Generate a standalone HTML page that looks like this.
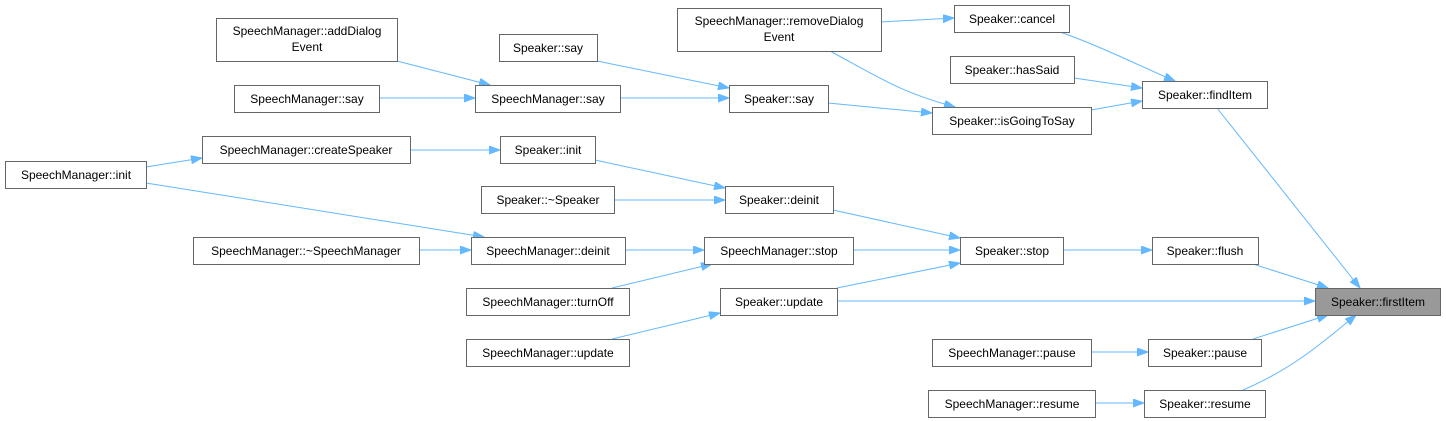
<!DOCTYPE html>
<html><head><meta charset="utf-8"><style>
html,body{margin:0;padding:0;background:#fff;}
svg{display:block;}
text{font-family:"Liberation Sans",Arial,sans-serif;font-size:12px;fill:#000;}
rect{fill:#fff;stroke:#666;stroke-width:1;}
path{fill:none;stroke:#63b8ff;stroke-width:1;}
</style></head><body>
<svg width="1446" height="421" viewBox="0 0 1446 421" xmlns="http://www.w3.org/2000/svg">
<defs><marker id="a" markerUnits="userSpaceOnUse" markerWidth="12" markerHeight="10" refX="11" refY="4" orient="auto"><path d="M0,0 L11,4 L0,8 Z" style="fill:#63b8ff;stroke:#63b8ff"/></marker></defs>
<g>
<path marker-end="url(#a)" d="M881,22 L954,18"/>
<path marker-end="url(#a)" d="M830,51 C880,78 900,92 955,107"/>
<path marker-end="url(#a)" d="M1060,32 C1100,46 1140,66 1175,81"/>
<path marker-end="url(#a)" d="M1074,78 L1142,88"/>
<path marker-end="url(#a)" d="M1091,110 L1142,101"/>
<path marker-end="url(#a)" d="M1217,108 L1360,288"/>
<path marker-end="url(#a)" d="M397,61 L490,85"/>
<path marker-end="url(#a)" d="M379,98 L475,98"/>
<path marker-end="url(#a)" d="M597,61 L729,88"/>
<path marker-end="url(#a)" d="M620,98 L729,98"/>
<path marker-end="url(#a)" d="M828,103 L932,113"/>
<path marker-end="url(#a)" d="M146,167 L202,158"/>
<path marker-end="url(#a)" d="M410,150 L500,150"/>
<path marker-end="url(#a)" d="M146,183 L484,237"/>
<path marker-end="url(#a)" d="M595,160 L725,188"/>
<path marker-end="url(#a)" d="M614,200 L725,200"/>
<path marker-end="url(#a)" d="M833,210 L960,238"/>
<path marker-end="url(#a)" d="M419,250 L471,250"/>
<path marker-end="url(#a)" d="M625,250 L704,250"/>
<path marker-end="url(#a)" d="M853,250 L960,250"/>
<path marker-end="url(#a)" d="M612,288 L712,264"/>
<path marker-end="url(#a)" d="M837,288 L960,263"/>
<path marker-end="url(#a)" d="M1063,250 L1152,250"/>
<path marker-end="url(#a)" d="M1253,264 L1328,288"/>
<path marker-end="url(#a)" d="M837,301 L1315,301"/>
<path marker-end="url(#a)" d="M612,339 L720,313"/>
<path marker-end="url(#a)" d="M1253,339 L1328,315"/>
<path marker-end="url(#a)" d="M1091,352 L1148,352"/>
<path marker-end="url(#a)" d="M1243,390 C1290,370 1320,345 1356,315"/>
<path marker-end="url(#a)" d="M1095,403 L1144,403"/>
</g>
<g>
<rect x="216.5" y="18.5" width="181" height="43"/><text x="307" y="35" text-anchor="middle">SpeechManager::addDialog</text><text x="307" y="51" text-anchor="middle">Event</text>
<rect x="677.5" y="8.5" width="204" height="43"/><text x="779" y="25" text-anchor="middle">SpeechManager::removeDialog</text><text x="779" y="41" text-anchor="middle">Event</text>
<rect x="499.5" y="34.5" width="98" height="27"/><text x="548" y="52" text-anchor="middle">Speaker::say</text>
<rect x="954.5" y="5.5" width="115" height="27"/><text x="1012" y="23" text-anchor="middle">Speaker::cancel</text>
<rect x="950.5" y="56.5" width="124" height="27"/><text x="1012" y="74" text-anchor="middle">Speaker::hasSaid</text>
<rect x="234.5" y="85.5" width="145" height="27"/><text x="307" y="103" text-anchor="middle">SpeechManager::say</text>
<rect x="475.5" y="85.5" width="145" height="27"/><text x="548" y="103" text-anchor="middle">SpeechManager::say</text>
<rect x="729.5" y="85.5" width="99" height="27"/><text x="779" y="103" text-anchor="middle">Speaker::say</text>
<rect x="932.5" y="107.5" width="159" height="27"/><text x="1012" y="125" text-anchor="middle">Speaker::isGoingToSay</text>
<rect x="1142.5" y="81.5" width="125" height="27"/><text x="1205" y="99" text-anchor="middle">Speaker::findItem</text>
<rect x="202.5" y="136.5" width="208" height="27"/><text x="306" y="154" text-anchor="middle">SpeechManager::createSpeaker</text>
<rect x="500.5" y="136.5" width="95" height="27"/><text x="548" y="154" text-anchor="middle">Speaker::init</text>
<rect x="5.5" y="161.5" width="141" height="27"/><text x="76" y="179" text-anchor="middle">SpeechManager::init</text>
<rect x="481.5" y="186.5" width="133" height="27"/><text x="548" y="204" text-anchor="middle">Speaker::~Speaker</text>
<rect x="725.5" y="186.5" width="108" height="27"/><text x="779" y="204" text-anchor="middle">Speaker::deinit</text>
<rect x="193.5" y="237.5" width="226" height="27"/><text x="306" y="255" text-anchor="middle">SpeechManager::~SpeechManager</text>
<rect x="471.5" y="237.5" width="154" height="27"/><text x="548" y="255" text-anchor="middle">SpeechManager::deinit</text>
<rect x="704.5" y="237.5" width="149" height="27"/><text x="779" y="255" text-anchor="middle">SpeechManager::stop</text>
<rect x="960.5" y="237.5" width="103" height="27"/><text x="1012" y="255" text-anchor="middle">Speaker::stop</text>
<rect x="1152.5" y="237.5" width="106" height="27"/><text x="1205" y="255" text-anchor="middle">Speaker::flush</text>
<rect x="466.5" y="288.5" width="163" height="27"/><text x="548" y="306" text-anchor="middle">SpeechManager::turnOff</text>
<rect x="720.5" y="288.5" width="117" height="27"/><text x="779" y="306" text-anchor="middle">Speaker::update</text>
<rect x="1315.5" y="288.5" width="125" height="27" style="fill:#999"/><text x="1378" y="306" text-anchor="middle">Speaker::firstItem</text>
<rect x="466.5" y="339.5" width="163" height="27"/><text x="548" y="357" text-anchor="middle">SpeechManager::update</text>
<rect x="932.5" y="339.5" width="159" height="27"/><text x="1012" y="357" text-anchor="middle">SpeechManager::pause</text>
<rect x="1148.5" y="339.5" width="113" height="27"/><text x="1205" y="357" text-anchor="middle">Speaker::pause</text>
<rect x="928.5" y="390.5" width="167" height="27"/><text x="1012" y="408" text-anchor="middle">SpeechManager::resume</text>
<rect x="1144.5" y="390.5" width="121" height="27"/><text x="1205" y="408" text-anchor="middle">Speaker::resume</text>
</g>
</svg>
</body></html>
